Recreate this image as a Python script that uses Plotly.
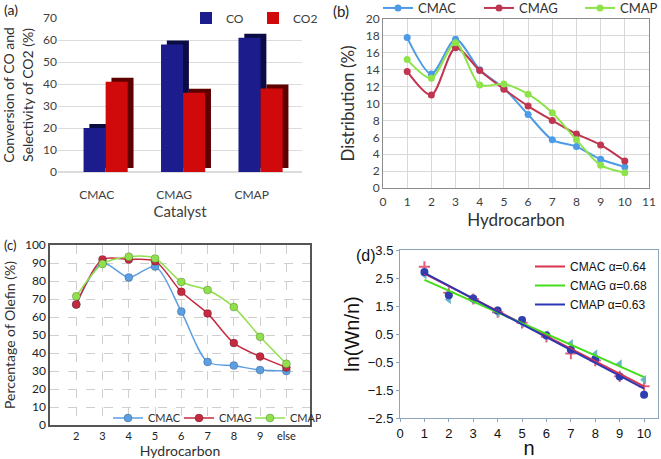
import plotly.graph_objects as go

# ---------------- data ----------------
catalysts = ["CMAC", "CMAG", "CMAP"]
co_conversion = [20, 58, 61]
co2_selectivity = [41, 36, 38]

carbon_n = [1, 2, 3, 4, 5, 6, 7, 8, 9, 10]
dist_cmac = [17.8, 13.5, 17.6, 14.0, 11.8, 8.7, 5.7, 4.9, 3.4, 2.5]
dist_cmag = [13.8, 11.0, 16.6, 13.9, 11.7, 9.7, 8.0, 6.4, 5.1, 3.2]
dist_cmap = [15.2, 13.0, 17.2, 12.2, 12.3, 11.1, 8.9, 5.7, 2.7, 1.8]

olefin_labels = ["2", "3", "4", "5", "6", "7", "8", "9", "else"]
olefin_cmac = [67, 90, 82, 88, 63, 35, 33, 30.5, 30]
olefin_cmag = [67, 92, 92, 91, 74, 62, 45.5, 38, 32]
olefin_cmap = [71.5, 89.5, 93.5, 92.5, 79.5, 75, 65.5, 49, 34]

asf_n = [1, 2, 3, 4, 5, 6, 7, 8, 9, 10]
asf_cmac = [2.9, 1.97, 1.75, 1.28, 0.9, 0.4, -0.2, -0.45, -1.01, -1.37]
asf_cmag = [2.62, 1.73, 1.72, 1.25, 0.88, 0.48, 0.16, -0.21, -0.57, -1.13]
asf_cmap = [2.71, 1.88, 1.77, 1.34, 1.0, 0.45, -0.06, -0.39, -1.02, -1.67]
fit_n = [1, 10]
fit_cmac = [2.66, -1.37]
fit_cmag = [2.43, -1.04]
fit_cmap = [2.68, -1.45]

W, H = 661, 459
def px(x):
    return x / W
def py(y):
    return 1 - y / H

fig = go.Figure()

# ---------------- (a) 3D-like bars ----------------
bw = 0.285
dx, dy = 0.075, 1.8
off_co, off_co2 = -0.17, 0.115
fig.add_trace(go.Bar(x=catalysts, y=co_conversion, base=dy, offset=off_co + dx, width=bw,
                     marker=dict(color="#0c0c45", line=dict(width=0)), showlegend=False,
                     hoverinfo="skip", xaxis="x", yaxis="y"))
fig.add_trace(go.Bar(x=catalysts, y=co2_selectivity, base=dy, offset=off_co2 + dx, width=bw,
                     marker=dict(color="#5e0000", line=dict(width=0)), showlegend=False,
                     hoverinfo="skip", xaxis="x", yaxis="y"))
fig.add_trace(go.Bar(x=catalysts, y=co_conversion, offset=off_co, width=bw, name="CO",
                     marker=dict(color="#1c1c8c", line=dict(width=0)), legend="legend",
                     xaxis="x", yaxis="y"))
fig.add_trace(go.Bar(x=catalysts, y=co2_selectivity, offset=off_co2, width=bw, name="CO2",
                     marker=dict(color="#d00a0a", line=dict(width=0)), legend="legend",
                     xaxis="x", yaxis="y"))

# ---------------- (b) distribution ----------------
b_cols = ["#4d9be6", "#c0354f", "#8ee34a"]
for name, vals, c in zip(["CMAC", "CMAG", "CMAP"], [dist_cmac, dist_cmag, dist_cmap], b_cols):
    fig.add_trace(go.Scatter(x=carbon_n, y=vals, name=name, mode="lines+markers",
                             line=dict(color=c, width=2, shape="spline", smoothing=0.8),
                             marker=dict(color=c, size=7), legend="legend2",
                             xaxis="x2", yaxis="y2"))

# ---------------- (c) olefin ----------------
c_cols = ["#5b9fe3", "#c42a40", "#8fe04c"]
for name, vals, c in zip(["CMAC", "CMAG", "CMAP"], [olefin_cmac, olefin_cmag, olefin_cmap], c_cols):
    fig.add_trace(go.Scatter(x=olefin_labels, y=vals, name=name, mode="lines+markers",
                             line=dict(color=c, width=1.5, shape="spline", smoothing=0.8),
                             marker=dict(color=c, size=8, line=dict(color="rgba(0,0,0,0.25)", width=0.8)),
                             legend="legend3", xaxis="x3", yaxis="y3"))

# ---------------- (d) ASF ----------------
fig.add_trace(go.Scatter(x=asf_n, y=asf_cmac, mode="markers", showlegend=False,
                         marker=dict(symbol="cross-thin", size=8, line=dict(color="#e0607a", width=2)),
                         xaxis="x4", yaxis="y4"))
fig.add_trace(go.Scatter(x=asf_n, y=asf_cmag, mode="markers", showlegend=False,
                         marker=dict(symbol="triangle-left", size=8, color="#6ab4cc"),
                         xaxis="x4", yaxis="y4"))
fig.add_trace(go.Scatter(x=asf_n, y=asf_cmap, mode="markers", showlegend=False,
                         marker=dict(symbol="circle", size=8, color="#2f3fb0"),
                         xaxis="x4", yaxis="y4"))
for name, vals, c in zip(["CMAC \u03b1=0.64", "CMAG \u03b1=0.68", "CMAP \u03b1=0.63"],
                         [fit_cmac, fit_cmag, fit_cmap], ["#d8344e", "#44dd1a", "#2d36b4"]):
    fig.add_trace(go.Scatter(x=fit_n, y=vals, name=name, mode="lines",
                             line=dict(color=c, width=2), legend="legend4",
                             xaxis="x4", yaxis="y4"))

calibri = "Lato, 'Open Sans', sans-serif"
arial = "'Liberation Sans', Arial, sans-serif"

fig.update_layout(
    width=W, height=H, margin=dict(l=0, r=0, t=0, b=0, autoexpand=False),
    paper_bgcolor="white", plot_bgcolor="white",
    barmode="overlay", showlegend=True,
    font=dict(family=calibri, color="#404040"),
    # (a)
    xaxis=dict(domain=[px(58), px(302)], range=[-0.5, 2.65], anchor="y",
               showgrid=False, showline=False, ticks="", ticklabelstandoff=14,
               tickfont=dict(size=12, color="#404040"),
               title=dict(text="Catalyst", font=dict(size=15, color="#404040"), standoff=4)),
    yaxis=dict(domain=[py(172), py(18)], range=[0, 70], anchor="x", dtick=10,
               showgrid=True, gridcolor="#dcdcdc", zeroline=True, zerolinecolor="#dcdcdc",
               showline=False, tickfont=dict(size=12, color="#404040"),
               title=dict(text="Conversion of CO and<br>Selectivity of CO2 (%)",
                          font=dict(size=14, color="#303030"), standoff=6)),
    # (b)
    xaxis2=dict(domain=[px(383), px(649)], range=[0, 11], dtick=1, anchor="y2",
                showgrid=True, gridcolor="#d9d9d9", zeroline=False,
                showline=True, linecolor="#8c8c8c", mirror=True, ticks="",
                tickfont=dict(size=12, color="#404040"), ticklabelstandoff=3,
                title=dict(text="Hydrocarbon", font=dict(size=17, color="#303030"), standoff=0)),
    yaxis2=dict(domain=[py(188), py(19)], range=[0, 20], dtick=2, anchor="x2",
                showgrid=True, gridcolor="#d9d9d9", zeroline=False,
                showline=True, linecolor="#8c8c8c", mirror=True, ticks="",
                tickfont=dict(size=12, color="#404040"),
                title=dict(text="Distribution (%)", font=dict(size=17, color="#303030"), standoff=6)),
    # (c)
    xaxis3=dict(domain=[px(50), px(310)], range=[-1, 8.9], anchor="y3", type="category",
                showgrid=True, gridcolor="#cfcfcf", griddash="dash", zeroline=False,
                showline=True, linecolor="#555555", linewidth=1.5, mirror=True, ticks="",
                tickfont=dict(size=11, color="#222222"),
                title=dict(text="Hydrocarbon", font=dict(size=14, color="#303030"), standoff=0)),
    yaxis3=dict(domain=[py(425), py(245)], range=[0, 100], dtick=10, anchor="x3",
                showgrid=True, gridcolor="#cfcfcf", griddash="dash", zeroline=False,
                showline=True, linecolor="#555555", linewidth=1.5, mirror=True, ticks="",
                tickfont=dict(size=12, color="#222222"),
                title=dict(text="Percentage of Olefin (%)", font=dict(size=14, color="#303030"), standoff=6)),
    # (d)
    xaxis4=dict(domain=[px(400), px(658)], range=[0, 10.57], dtick=1, anchor="y4",
                showgrid=False, zeroline=False, showline=True, linecolor="#8ea3bd", mirror=True,
                ticks="outside", ticklen=3, tickcolor="#8ea3bd",
                tickfont=dict(size=13, color="#111111", family=arial),
                title=dict(text="n", font=dict(size=20, color="#111111", family=arial), standoff=0)),
    yaxis4=dict(domain=[py(418), py(250)], range=[-2.5, 3.5], dtick=1, tick0=-2.5, anchor="x4",
                showgrid=False, zeroline=False, showline=True, linecolor="#8ea3bd", mirror=True,
                ticks="outside", ticklen=3, tickcolor="#8ea3bd",
                tickfont=dict(size=13, color="#111111", family=arial),
                title=dict(text="ln(Wn/n)", font=dict(size=20, color="#111111", family=arial), standoff=2)),
    legend=dict(x=px(186), y=py(18), xanchor="left", yanchor="middle", orientation="h",
                font=dict(size=12, color="#404040"), bgcolor="rgba(0,0,0,0)", itemwidth=30,
                entrywidth=22, tracegroupgap=0),
    legend2=dict(x=px(378), y=py(8), xanchor="left", yanchor="middle", orientation="h",
                 font=dict(size=13, color="#303030"), bgcolor="rgba(0,0,0,0)", itemwidth=30,
                 entrywidth=56),
    legend3=dict(x=px(108), y=py(418), xanchor="left", yanchor="middle", orientation="h",
                 font=dict(size=11, color="#303030"), bgcolor="rgba(0,0,0,0)", itemwidth=30,
                 entrywidth=26),
    legend4=dict(x=px(530), y=py(252), xanchor="left", yanchor="top", orientation="v",
                 font=dict(size=12, color="#111111", family=arial), bgcolor="rgba(0,0,0,0)",
                 itemwidth=30, tracegroupgap=0),
    annotations=[
        dict(text="(a)", x=px(2), y=py(10), xref="paper", yref="paper", xanchor="left",
             yanchor="middle", showarrow=False, font=dict(size=14, color="#222222")),
        dict(text="(b)", x=px(331), y=py(11), xref="paper", yref="paper", xanchor="left",
             yanchor="middle", showarrow=False, font=dict(size=15, color="#222222")),
        dict(text="(c)", x=px(2), y=py(245), xref="paper", yref="paper", xanchor="left",
             yanchor="middle", showarrow=False, font=dict(size=13, color="#222222")),
        dict(text="(d)", x=px(354), y=py(255), xref="paper", yref="paper", xanchor="left",
             yanchor="middle", showarrow=False, font=dict(size=16, color="#111111", family=arial)),
    ],
)

fig.write_html("out.html", config={"displayModeBar": False},
               post_script="document.body.style.margin='0';document.body.style.overflow='hidden';")
